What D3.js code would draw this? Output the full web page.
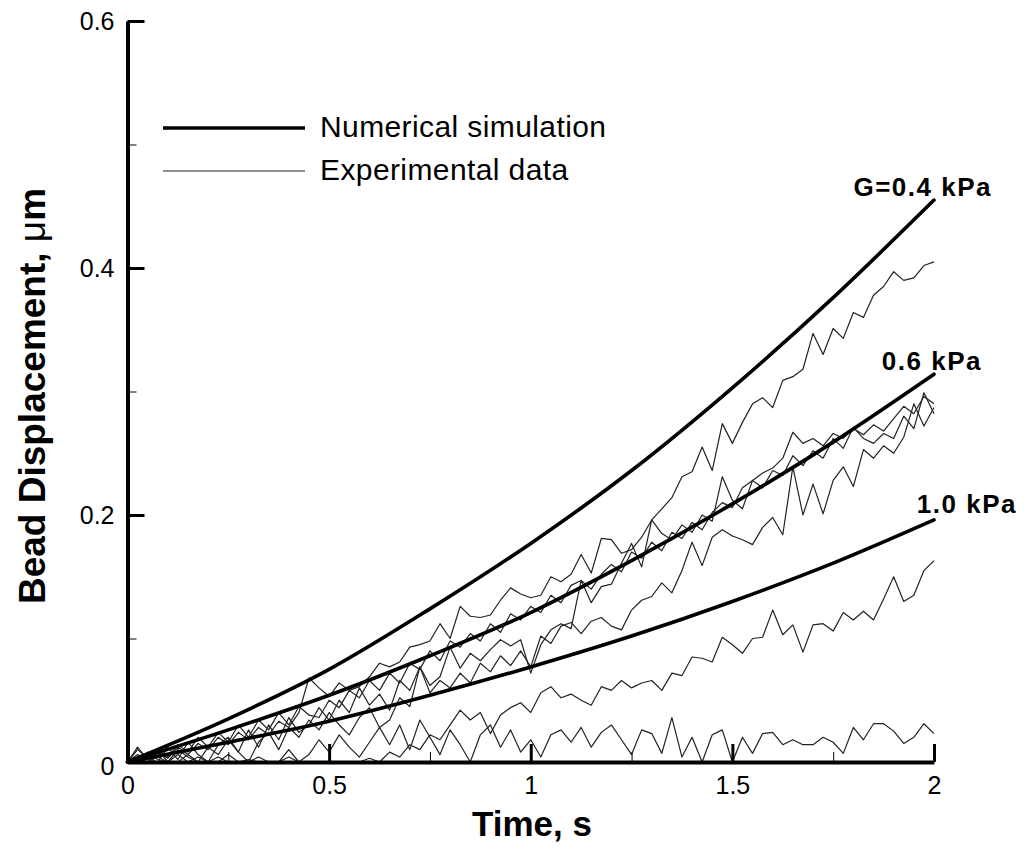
<!DOCTYPE html>
<html><head><meta charset="utf-8">
<script src="https://cdn.jsdelivr.net/npm/d3@7"></script>
<style>
html,body{margin:0;padding:0;background:#fff;}
svg{display:block;font-family:"Liberation Sans",Arial,Helvetica,sans-serif;}
</style></head>
<body>
<svg id="chart" width="1024" height="848"></svg>
<script>
// ---------- data ----------
const simTimes = [0, 0.25, 0.5, 0.75, 1.0, 1.25, 1.5, 1.75, 2.0];
const simG04 = [0, 0.035, 0.075, 0.124, 0.177, 0.236, 0.303, 0.376, 0.455];
const simG06 = [0, 0.026, 0.054, 0.086, 0.121, 0.163, 0.209, 0.259, 0.314];
const simG10 = [0, 0.016, 0.033, 0.054, 0.077, 0.102, 0.130, 0.161, 0.196];
const simLabels = ["G=0.4 kPa", "0.6 kPa", "1.0 kPa"];

const expTimes = d3.range(0, 2.0001, 0.025);
const exp1 = [0.000,0.004,0.000,0.008,0.003,0.012,0.006,0.015,0.010,0.020,0.014,0.024,0.018,0.028,0.022,0.033,0.028,0.040,0.068,0.060,
0.053,0.064,0.058,0.061,0.069,0.080,0.077,0.081,0.093,0.095,0.098,0.112,0.100,0.126,0.118,0.117,0.119,0.131,0.141,0.136,
0.133,0.135,0.150,0.146,0.152,0.168,0.153,0.181,0.180,0.169,0.172,0.182,0.196,0.205,0.214,0.231,0.235,0.255,0.236,0.274,
0.258,0.275,0.290,0.295,0.287,0.309,0.312,0.318,0.347,0.330,0.351,0.343,0.364,0.360,0.378,0.385,0.397,0.390,0.392,0.402,0.405];
const exp2 = [0.000,0.006,0.002,0.010,0.004,0.014,0.008,0.020,0.012,0.024,0.016,0.030,0.020,0.034,0.026,0.040,0.030,0.045,0.038,0.036,
0.050,0.044,0.058,0.052,0.066,0.058,0.072,0.064,0.080,0.075,0.090,0.082,0.098,0.093,0.104,0.098,0.112,0.105,0.120,0.115,
0.126,0.121,0.135,0.129,0.143,0.147,0.140,0.152,0.160,0.154,0.170,0.165,0.178,0.171,0.186,0.181,0.194,0.188,0.202,0.210,
0.206,0.222,0.228,0.234,0.238,0.246,0.267,0.258,0.262,0.256,0.266,0.262,0.270,0.265,0.273,0.268,0.278,0.288,0.282,0.296,0.290];
const exp3 = [0.000,0.010,0.003,0.000,0.012,0.002,0.016,0.006,0.000,0.014,0.020,0.008,0.026,0.012,0.030,0.018,0.036,0.024,0.030,0.044,
0.034,0.050,0.040,0.060,0.046,0.055,0.042,0.066,0.058,0.077,0.062,0.069,0.093,0.076,0.088,0.082,0.091,0.099,0.094,0.099,
0.072,0.095,0.107,0.112,0.108,0.147,0.129,0.142,0.144,0.161,0.177,0.158,0.196,0.185,0.180,0.192,0.186,0.200,0.195,0.231,
0.212,0.205,0.228,0.222,0.236,0.232,0.248,0.240,0.252,0.246,0.262,0.254,0.271,0.262,0.258,0.266,0.262,0.280,0.270,0.299,0.282];
const exp4 = [0.000,0.000,0.008,0.002,0.000,0.010,0.004,0.000,0.012,0.006,0.018,0.008,0.000,0.016,0.024,0.010,0.028,0.020,0.034,0.026,
0.040,0.030,0.022,0.036,0.044,0.028,0.034,0.052,0.045,0.077,0.056,0.066,0.060,0.072,0.064,0.080,0.073,0.086,0.078,0.090,
0.077,0.102,0.096,0.110,0.113,0.104,0.114,0.117,0.110,0.107,0.123,0.131,0.134,0.145,0.137,0.155,0.178,0.159,0.182,0.188,
0.183,0.180,0.176,0.190,0.198,0.184,0.239,0.200,0.225,0.201,0.228,0.239,0.223,0.253,0.246,0.256,0.250,0.263,0.290,0.272,0.287];
const exp5 = [0.000,0.000,0.000,0.004,0.000,0.000,0.006,0.000,0.000,0.004,0.000,0.000,0.002,0.000,0.000,0.000,0.004,0.000,0.000,0.000,
0.000,0.000,0.000,0.000,0.003,0.000,0.008,0.004,0.014,0.010,0.022,0.018,0.030,0.042,0.034,0.040,0.023,0.038,0.044,0.048,
0.040,0.056,0.061,0.052,0.055,0.050,0.046,0.061,0.058,0.066,0.060,0.064,0.066,0.058,0.072,0.070,0.085,0.084,0.081,0.101,
0.095,0.088,0.100,0.101,0.123,0.103,0.111,0.089,0.111,0.112,0.106,0.121,0.115,0.122,0.115,0.132,0.150,0.130,0.135,0.155,0.163];
const exp6 = [0.000,0.012,0.002,0.010,0.000,0.006,0.000,0.004,0.000,0.000,0.006,0.000,0.000,0.004,0.000,0.000,0.010,0.000,0.006,0.018,
0.008,0.022,0.012,0.004,0.016,0.028,0.014,0.030,0.010,0.034,0.020,0.006,0.026,0.014,0.000,0.022,0.030,0.012,0.026,0.008,
0.018,0.004,0.022,0.026,0.016,0.028,0.012,0.024,0.030,0.018,0.006,0.026,0.023,0.007,0.036,0.004,0.020,0.000,0.022,0.026,
0.000,0.020,0.007,0.023,0.024,0.014,0.018,0.014,0.014,0.020,0.016,0.007,0.028,0.018,0.031,0.031,0.025,0.015,0.020,0.031,0.023];

const xTicks = [0, 0.5, 1, 1.5, 2];
const xMinorTicks = [0.25, 0.75, 1.25, 1.75];
const yTicks = [0, 0.2, 0.4, 0.6];
const yMinorTicks = [0.1, 0.3, 0.5];
const legendLabels = ["Numerical simulation", "Experimental data"];

// ---------- layout ----------
const svg = d3.select("#chart");
svg.append("rect").attr("width",1024).attr("height",848).attr("fill","#fff");
const x = d3.scaleLinear().domain([0, 2]).range([127.5, 934]);
const y = d3.scaleLinear().domain([0, 0.6]).range([762, 21]);

// experimental data (thin)
const expLine = d3.line().x((d,i)=>x(expTimes[i])).y(d=>y(d)).curve(d3.curveLinear);
[exp1, exp2, exp3, exp4, exp5, exp6].forEach(s=>{
  svg.append("path").attr("d", expLine(s)).attr("fill","none")
    .attr("stroke","#222").attr("stroke-width",1.2).attr("stroke-linejoin","round");
});

// simulations (thick)
const simLine = d3.line().x((d,i)=>x(simTimes[i])).y(d=>y(d)).curve(d3.curveMonotoneX);
[simG04, simG06, simG10].forEach(s=>{
  svg.append("path").attr("d", simLine(s)).attr("fill","none")
    .attr("stroke","#000").attr("stroke-width",3.6).attr("stroke-linecap","round");
});

// curve labels
const labelEndX = [992, 982, 1017];
const labelOffset = [-4, -4, -7];
[simG04, simG06, simG10].forEach((s,i)=>{
  svg.append("text").attr("x", labelEndX[i]).attr("y", y(s[s.length-1]) + labelOffset[i])
    .attr("text-anchor","end").attr("font-weight","bold").attr("font-size",26)
    .attr("letter-spacing",1.5).attr("fill","#000").text(simLabels[i]);
});

// axes
const fmt = d3.format("");
const gx = svg.append("g").attr("transform","translate(0,762)")
  .call(d3.axisBottom(x).tickValues(xTicks).tickSizeInner(-18).tickSizeOuter(0).tickPadding(14).tickFormat(fmt));
gx.select(".domain").attr("stroke","#000").attr("stroke-width",4);
gx.selectAll(".tick line").attr("stroke","#000").attr("stroke-width",3);
gx.selectAll(".tick text").attr("font-size",25).attr("fill","#000").attr("font-family","Liberation Sans, Arial, sans-serif");

const gxm = svg.append("g").attr("transform","translate(0,762)")
  .call(d3.axisBottom(x).tickValues(xMinorTicks).tickSizeInner(-10).tickSizeOuter(0).tickFormat(""));
gxm.select(".domain").remove();
gxm.selectAll(".tick line").attr("stroke","#000").attr("stroke-width",1);

const gy = svg.append("g").attr("transform","translate(127.5,0)")
  .call(d3.axisLeft(y).tickValues(yTicks).tickSizeInner(-17).tickSizeOuter(0).tickPadding(13).tickFormat(fmt));
gy.select(".domain").attr("stroke","#000").attr("stroke-width",4);
gy.selectAll(".tick line").attr("stroke","#000").attr("stroke-width",3);
gy.selectAll(".tick text").attr("font-size",25).attr("fill","#000").attr("font-family","Liberation Sans, Arial, sans-serif");
gy.selectAll(".tick text").filter(d=>d===0).attr("dy","0.5em");

const gym = svg.append("g").attr("transform","translate(127.5,0)")
  .call(d3.axisLeft(y).tickValues(yMinorTicks).tickSizeInner(-9).tickSizeOuter(0).tickFormat(""));
gym.select(".domain").remove();
gym.selectAll(".tick line").attr("stroke","#000").attr("stroke-width",1);

// axis titles
svg.append("text").attr("x",532).attr("y",836).attr("text-anchor","middle")
  .attr("font-weight","bold").attr("font-size",35).attr("fill","#000").text("Time, s");
const yt = svg.append("text").attr("transform","translate(45,396) rotate(-90)")
  .attr("text-anchor","middle").attr("font-weight","bold").attr("font-size",37).attr("fill","#000");
yt.append("tspan").text("Bead Displacement, ");
yt.append("tspan").attr("font-weight","normal").text("\u03bc");
yt.append("tspan").text("m");

// legend
const legY = [128, 171];
const legW = [3.6, 1.1];
legendLabels.forEach((t,i)=>{
  svg.append("line").attr("x1",163).attr("x2",305).attr("y1",legY[i]).attr("y2",legY[i])
    .attr("stroke", i===0 ? "#000" : "#222").attr("stroke-width",legW[i]);
  svg.append("text").attr("x",320).attr("y",legY[i]+9).attr("font-size",30)
    .attr("letter-spacing",0.4).attr("fill","#000").text(t);
});
</script>
</body></html>
